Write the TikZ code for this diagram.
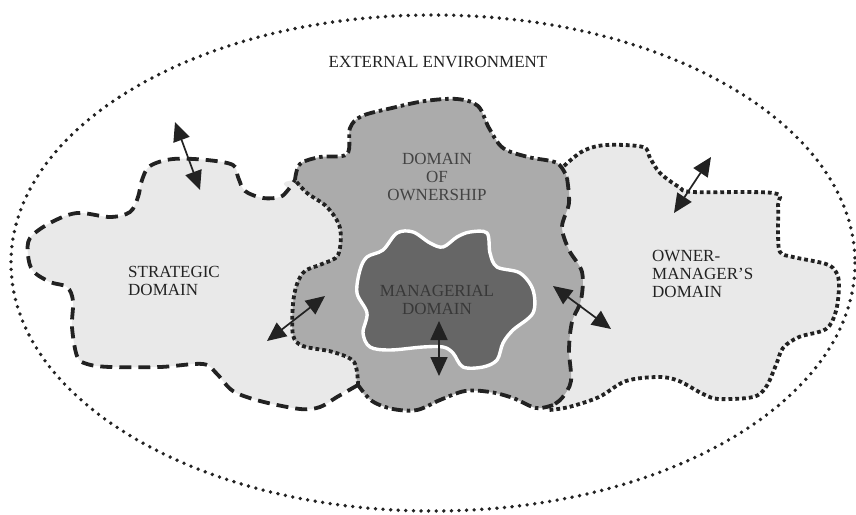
\documentclass[tikz,border=0pt]{standalone}
\usepackage{fontspec}
\setmainfont{Liberation Serif}
\usetikzlibrary{arrows.meta}
\definecolor{ink}{HTML}{222222}
\definecolor{palegrey}{HTML}{E9E9E9}
\definecolor{midgrey}{HTML}{ABABAB}
\definecolor{darkgrey}{HTML}{666666}

\begin{document}
\begin{tikzpicture}[x=1pt, y=-1pt,
    dashline/.style={ink, line width=3.8pt, dash pattern=on 12pt off 7pt},
    dotline/.style={ink, line width=3.8pt, dash pattern=on 3.8pt off 3pt},
    dashdotline/.style={ink, line width=3.8pt, dash pattern=on 11pt off 4pt on 3.5pt off 4pt},
    link/.style={ink, line width=1.7pt, {Triangle[length=19pt,width=17pt]}-{Triangle[length=19pt,width=17pt]}},
    domaintext/.style={font=\fontsize{17}{18}\selectfont, inner sep=0pt, text=ink}
]
    \useasboundingbox (0,0) rectangle (856,514);

    % Strategic domain (fill, hidden part runs under ownership)
    \fill[palegrey] plot[smooth cycle, tension=0.55] coordinates {
        (358,385) (337,397) (320,407) (300,409) (260,401) (233,391) (217,374)
        (203,364) (160,367) (110,367) (87,364) (77,356) (72,327) (73,301)
        (67,287) (50,282) (33,271) (28,255) (30,238) (50,223) (77,213)
        (110,217) (130,212) (138,197) (142,180) (150,166) (173,159) (207,160)
        (233,165) (238,177) (245,191) (263,198) (280,197) (288,190) (295,180)
        (430,175) (567,178) (569,203) (562,227) (569,250) (582,272) (581,300)
        (572,322) (569,350) (571,381) (562,398) (553,405) (536,408) (513,398)
        (490,392) (465,391) (440,400) (417,410) (393,409) (372,401)};

    % Owner-manager's domain (fill)
    \fill[palegrey] plot[smooth cycle, tension=0.55] coordinates {
        (564,166) (583,151) (606,145) (643,147) (650,158) (660,173) (679,187)
        (693,192) (773,193) (778,205) (778,233) (780,252) (793,257) (826,264)
        (836,272) (839,285) (836,311) (826,329) (799,337) (783,348) (776,365)
        (766,387) (753,397) (719,399) (703,394) (679,381) (659,377) (626,381)
        (599,397) (569,407) (549,410) (513,398) (465,391) (417,410) (372,401)
        (358,385) (354,362) (333,352) (303,346) (293,335) (293,304) (297,284)
        (305,271) (322,264) (338,255) (340,228) (327,207) (307,193) (295,180)
        (320,170) (430,150) (528,165) (553,168)};

    % Domain of ownership (fill)
    \fill[midgrey] plot[smooth cycle, tension=0.55] coordinates {
        (295,180) (300,164) (320,157) (347,154) (350,128) (362,116) (392,108)
        (425,101) (457,99) (478,106) (489,128) (503,148) (528,157) (557,163)
        (567,178) (569,203) (562,227) (569,250) (582,272) (581,300) (572,322)
        (569,350) (571,381) (562,398) (553,405) (536,408) (513,398) (490,392)
        (465,391) (440,400) (417,410) (393,409) (372,401) (358,385) (354,362)
        (333,352) (303,346) (293,335) (293,304) (297,284) (305,271) (322,264)
        (338,255) (340,228) (327,207) (307,193)};

    % Managerial domain
    \filldraw[fill=darkgrey, draw=white, line width=3.4pt] plot[smooth cycle, tension=0.55] coordinates {
        (360,270) (367,257) (383,250) (397,233) (413,232) (430,243) (443,247)
        (457,237) (470,232) (487,233) (490,253) (497,267) (520,273) (533,290)
        (533,313) (513,330) (503,343) (497,360) (483,367) (463,367) (453,353)
        (443,347) (423,347) (390,350) (370,347) (363,333) (367,313) (357,293)};

    % Outlines
    \draw[dashline] plot[smooth, tension=0.55] coordinates {
        (358,385) (337,397) (320,407) (300,409) (260,401) (233,391) (217,374)
        (203,364) (160,367) (110,367) (87,364) (77,356) (72,327) (73,301)
        (67,287) (50,282) (33,271) (28,255) (30,238) (50,223) (77,213)
        (110,217) (130,212) (138,197) (142,180) (150,166) (173,159) (207,160)
        (233,165) (238,177) (245,191) (263,198) (280,197) (288,190) (295,180)};
    \draw[dotline] plot[smooth, tension=0.55] coordinates {
        (564,166) (583,151) (606,145) (643,147) (650,158) (660,173) (679,187)
        (693,192) (773,193) (778,205) (778,233) (780,252) (793,257) (826,264)
        (836,272) (839,285) (836,311) (826,329) (799,337) (783,348) (776,365)
        (766,387) (753,397) (719,399) (703,394) (679,381) (659,377) (626,381)
        (599,397) (569,407) (549,410)};
    \draw[dashdotline] plot[smooth, tension=0.55] coordinates {
        (295,180) (300,164) (320,157) (347,154) (350,128) (362,116) (392,108)
        (425,101) (457,99) (478,106) (489,128) (503,148) (528,157) (557,163)
        (567,178)};
    \draw[dashline] plot[smooth, tension=0.55] coordinates {
        (567,178) (569,203) (562,227) (569,250) (582,272) (581,300) (572,322)
        (569,350) (571,381) (562,398) (553,405)};
    \draw[dashdotline] plot[smooth, tension=0.55] coordinates {
        (553,405) (536,408) (513,398) (490,392) (465,391) (440,400) (417,410)
        (393,409) (372,401) (358,385)};
    \draw[dotline] plot[smooth, tension=0.55] coordinates {
        (358,385) (354,362) (333,352) (303,346) (293,335) (293,304) (297,284)
        (305,271) (322,264) (338,255) (340,228) (327,207) (307,193) (295,180)};

    % External environment
    \draw[ink, line width=3.8pt, line cap=round, dash pattern=on 0pt off 7.6pt]
        (433,263) ellipse [x radius=422, y radius=248];

    % Arrow ends
    \coordinate (stratout) at (175,122);
    \coordinate (stratin) at (200,190);
    \coordinate (ownerout) at (711,157);
    \coordinate (ownerin) at (674,213);
    \coordinate (ownleft) at (325,296);
    \coordinate (stratleft) at (267,341);
    \coordinate (ownright) at (553,286);
    \coordinate (ownerright) at (611,329);
    \coordinate (mantop) at (439,321);
    \coordinate (manbot) at (439,376);

    \draw[link] (stratout) -- (stratin);
    \draw[link] (ownerout) -- (ownerin);
    \draw[link] (ownleft) -- (stratleft);
    \draw[link] (ownright) -- (ownerright);
    \draw[link] (mantop) -- (manbot);

    % Labels
    \node[domaintext] (env) at (438,62) {EXTERNAL ENVIRONMENT};
    \node[domaintext, anchor=west, align=left] (strategic) at (128,281) {STRATEGIC\\DOMAIN};
    \node[domaintext, align=center, text=ink!85] (ownership) at (437,177) {DOMAIN\\OF\\OWNERSHIP};
    \node[domaintext, align=center, text=ink!90] (managerial) at (437,300) {MANAGERIAL\\DOMAIN};
    \node[domaintext, anchor=west, align=left] (ownermgr) at (652,274) {OWNER-\\MANAGER'S\\DOMAIN};
\end{tikzpicture}
\end{document}
